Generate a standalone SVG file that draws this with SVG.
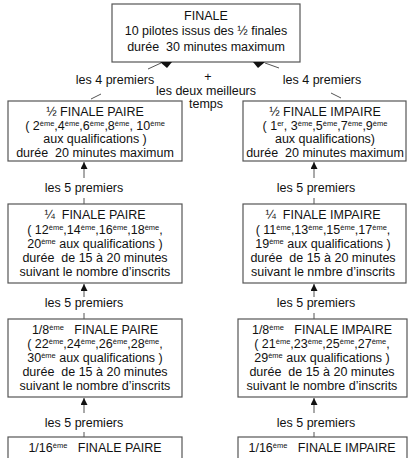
<svg xmlns="http://www.w3.org/2000/svg" width="411" height="458" viewBox="0 0 411 458">
<style>
text{font-family:"Liberation Sans",Arial,sans-serif;font-size:12.5px;fill:#111;text-anchor:middle}
.s{font-size:7.5px}
rect.box{fill:#fff;stroke:#555;stroke-width:1.2}
.c line{stroke:#555;stroke-width:1}
.ah{fill:#111}
</style>
<defs>
<marker id="arr" viewBox="0 0 10 10" refX="10" refY="5" markerWidth="8" markerHeight="7" markerUnits="userSpaceOnUse" orient="auto">
<path d="M0,0 L10,5 L0,10 z" fill="#111"/>
</marker>
</defs>
<rect width="411" height="458" fill="#fff"/>

<g id="finale">
<rect class="box" x="112" y="4" width="188" height="58"/>
<text x="206" y="20">FINALE</text>
<text x="206" y="35">10 pilotes issus des ½ finales</text>
<text x="206" y="51" xml:space="preserve">durée  30 minutes maximum</text>
</g>

<g id="demi-paire">
<rect class="box" x="8" y="101" width="174" height="60"/>
<text x="95" y="116">½ FINALE PAIRE</text>
<text x="95" y="130">( 2<tspan class="s" dy="-4.5">ème</tspan><tspan dy="4.5">,4</tspan><tspan class="s" dy="-4.5">ème</tspan><tspan dy="4.5">,6</tspan><tspan class="s" dy="-4.5">ème</tspan><tspan dy="4.5">,8</tspan><tspan class="s" dy="-4.5">ème</tspan><tspan dy="4.5">, 10</tspan><tspan class="s" dy="-4.5">ème</tspan></text>
<text x="95" y="143">aux qualifications )</text>
<text x="95" y="157" xml:space="preserve">durée  20 minutes maximum</text>
</g>

<g id="demi-impaire">
<rect class="box" x="243" y="101" width="163" height="60"/>
<text x="325" y="116">½ FINALE IMPAIRE</text>
<text x="325" y="130">( 1<tspan class="s" dy="-4.5">er</tspan><tspan dy="4.5">, 3</tspan><tspan class="s" dy="-4.5">ème</tspan><tspan dy="4.5">,5</tspan><tspan class="s" dy="-4.5">ème</tspan><tspan dy="4.5">,7</tspan><tspan class="s" dy="-4.5">ème</tspan><tspan dy="4.5">,9</tspan><tspan class="s" dy="-4.5">ème</tspan></text>
<text x="325" y="143">aux qualifications)</text>
<text x="325" y="157" xml:space="preserve">durée  20 minutes maximum</text>
</g>

<g id="quart-paire">
<rect class="box" x="8" y="204" width="174" height="79"/>
<text x="95" y="219" xml:space="preserve">¼  FINALE PAIRE</text>
<text x="95" y="234">( 12<tspan class="s" dy="-4.5">ème</tspan><tspan dy="4.5">,14</tspan><tspan class="s" dy="-4.5">ème</tspan><tspan dy="4.5">,16</tspan><tspan class="s" dy="-4.5">ème</tspan><tspan dy="4.5">,18</tspan><tspan class="s" dy="-4.5">ème</tspan><tspan dy="4.5">,</tspan></text>
<text x="95" y="248">20<tspan class="s" dy="-4.5">ème</tspan><tspan dy="4.5"> aux qualifications )</tspan></text>
<text x="95" y="262" xml:space="preserve">durée  de 15 à 20 minutes</text>
<text x="95" y="276">suivant le nombre d’inscrits</text>
</g>

<g id="quart-impaire">
<rect class="box" x="243" y="204" width="163" height="79"/>
<text x="323" y="219" xml:space="preserve">¼  FINALE IMPAIRE</text>
<text x="323" y="234">( 11<tspan class="s" dy="-4.5">ème</tspan><tspan dy="4.5">,13</tspan><tspan class="s" dy="-4.5">ème</tspan><tspan dy="4.5">,15</tspan><tspan class="s" dy="-4.5">ème</tspan><tspan dy="4.5">,17</tspan><tspan class="s" dy="-4.5">ème</tspan><tspan dy="4.5">,</tspan></text>
<text x="323" y="248">19<tspan class="s" dy="-4.5">ème</tspan><tspan dy="4.5"> aux qualifications )</tspan></text>
<text x="323" y="262" xml:space="preserve">durée  de 15 à 20 minutes</text>
<text x="323" y="276">suivant le nmbre d’inscrits</text>
</g>

<g id="huitieme-paire">
<rect class="box" x="8" y="319" width="174" height="78"/>
<text x="95" y="334" xml:space="preserve">1/8<tspan class="s" dy="-4.5">ème</tspan><tspan dy="4.5">   FINALE PAIRE</tspan></text>
<text x="95" y="348">( 22<tspan class="s" dy="-4.5">ème</tspan><tspan dy="4.5">,24</tspan><tspan class="s" dy="-4.5">ème</tspan><tspan dy="4.5">,26</tspan><tspan class="s" dy="-4.5">ème</tspan><tspan dy="4.5">,28</tspan><tspan class="s" dy="-4.5">ème</tspan><tspan dy="4.5">,</tspan></text>
<text x="95" y="362">30<tspan class="s" dy="-4.5">ème</tspan><tspan dy="4.5"> aux qualifications )</tspan></text>
<text x="95" y="376" xml:space="preserve">durée  de 15 à 20 minutes</text>
<text x="95" y="390">suivant le nombre d’inscrits</text>
</g>

<g id="huitieme-impaire">
<rect class="box" x="238" y="319" width="169" height="78"/>
<text x="322" y="334" xml:space="preserve">1/8<tspan class="s" dy="-4.5">ème</tspan><tspan dy="4.5">   FINALE IMPAIRE</tspan></text>
<text x="322" y="348">( 21<tspan class="s" dy="-4.5">ème</tspan><tspan dy="4.5">,23</tspan><tspan class="s" dy="-4.5">ème</tspan><tspan dy="4.5">,25</tspan><tspan class="s" dy="-4.5">ème</tspan><tspan dy="4.5">,27</tspan><tspan class="s" dy="-4.5">ème</tspan><tspan dy="4.5">,</tspan></text>
<text x="322" y="362">29<tspan class="s" dy="-4.5">ème</tspan><tspan dy="4.5"> aux qualifications )</tspan></text>
<text x="322" y="376" xml:space="preserve">durée  de 15 à 20 minutes</text>
<text x="322" y="390">suivant le nombre d’inscrits</text>
</g>

<g id="seizieme-paire">
<rect class="box" x="8" y="437" width="174" height="30"/>
<text x="95" y="452" xml:space="preserve">1/16<tspan class="s" dy="-4.5">ème</tspan><tspan dy="4.5">   FINALE PAIRE</tspan></text>
</g>

<g id="seizieme-impaire">
<rect class="box" x="238" y="437" width="169" height="30"/>
<text x="322" y="452" xml:space="preserve">1/16<tspan class="s" dy="-4.5">ème</tspan><tspan dy="4.5">   FINALE IMPAIRE</tspan></text>
</g>

<g id="connectors" class="c">
<line x1="148" y1="69" x2="161" y2="63"/>
<polygon class="ah" points="160,62 172,62 167,68"/>
<line x1="91" y1="99" x2="101" y2="94"/>
<text x="115" y="84">les 4 premiers</text>
<line x1="279" y1="68" x2="265" y2="63"/>
<polygon class="ah" points="253,62 265,62 258,68"/>
<line x1="331" y1="93" x2="341" y2="98"/>
<text x="322" y="84">les 4 premiers</text>
<text x="208" y="81">+</text>
<text x="206" y="95">les deux meilleurs</text>
<text x="206" y="108">temps</text>

<line x1="84" y1="178" x2="84" y2="162" marker-end="url(#arr)"/>
<text x="84" y="192">les 5 premiers</text>
<line x1="84" y1="198" x2="84" y2="204"/>
<line x1="314" y1="178" x2="314" y2="162" marker-end="url(#arr)"/>
<text x="316" y="192">les 5 premiers</text>
<line x1="314" y1="198" x2="314" y2="204"/>

<line x1="84" y1="297" x2="84" y2="284" marker-end="url(#arr)"/>
<text x="84" y="307">les 5 premiers</text>
<line x1="84" y1="313" x2="84" y2="319"/>
<line x1="314" y1="297" x2="314" y2="284" marker-end="url(#arr)"/>
<text x="316" y="307">les 5 premiers</text>
<line x1="314" y1="313" x2="314" y2="319"/>

<line x1="84" y1="413" x2="84" y2="398" marker-end="url(#arr)"/>
<text x="84" y="427">les 5 premiers</text>
<line x1="84" y1="432" x2="84" y2="437"/>
<line x1="314" y1="413" x2="314" y2="398" marker-end="url(#arr)"/>
<text x="316" y="427">les 5 premiers</text>
<line x1="314" y1="432" x2="314" y2="437"/>
</g>
</svg>
